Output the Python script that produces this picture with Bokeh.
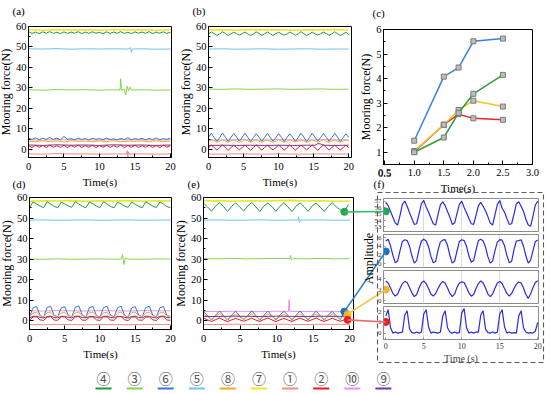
import numpy as np
from bokeh.plotting import figure
from bokeh.models import Range1d, SingleIntervalTicker, FixedTicker, PrintfTickFormatter, AllLabels
from bokeh.embed import file_html
from bokeh.resources import INLINE
from bokeh.core.properties import value

SERIF = "Liberation Serif"
OX, OY = 0, 0

# ---------------- time grids ----------------
T2 = np.linspace(0, 20, 11)
T1 = np.linspace(0, 20, 21)
T05 = np.linspace(0, 20, 41)
T04 = np.linspace(0, 20, 51)
TE = np.linspace(0, 19.8, 37)
TF = np.linspace(0, 20, 65)

# series colours (legend numbers)
COL = {1: "#f08a8a", 2: "#e41a1c", 3: "#86d64a", 4: "#1f9a3e", 5: "#6ec3ef",
       6: "#3478d4", 7: "#f2e51b", 8: "#f7a81b", 9: "#6a36a8", 10: "#ea8fea"}
LEGEND_ORDER = [4, 3, 6, 5, 8, 7, 1, 2, 10, 9]
LEGEND_TEXT = ["④", "③", "⑥", "⑤", "⑧", "⑦", "①", "②", "⑩", "⑨"]

# ---------------- panel (a) ----------------
A7 = [58.4, 58.2, 58.5, 58.3, 58.4, 58.2, 58.5, 58.3, 58.4, 58.2, 58.4]
A4 = [57.5, 56.6, 57.3, 56.5, 57.4, 56.7, 57.5, 56.6, 57.2, 56.5, 57.4, 56.6, 57.3, 56.7, 57.5, 56.5,
      57.3, 56.6, 57.4, 56.7, 57.2, 56.5, 57.4, 56.6, 57.3, 56.7, 57.5, 56.6, 57.2, 56.5, 57.4, 56.7,
      57.3, 56.6, 57.5, 56.5, 57.3, 56.7, 57.4, 56.6, 57.2]
A5_T = [0, 2, 4, 6, 8, 10, 12, 14, 14.4, 14.5, 14.6, 16, 18, 20]
A5 = [49.1, 49.0, 49.2, 48.9, 49.1, 49.0, 49.1, 49.0, 49.6, 47.3, 49.0, 49.1, 48.9, 49.0]
A3_T = [0, 2, 4, 6, 8, 10, 12, 12.9, 13.0, 13.1, 13.5, 13.7, 13.9, 14.1, 14.3, 14.5, 16, 18, 20]
A3 = [29.1, 28.9, 29.2, 29.0, 29.1, 28.9, 29.1, 29.0, 34.5, 28.8, 29.5, 26.5, 30.8, 28.5, 30.5, 29.0,
      29.1, 28.9, 29.0]
A6 = [5.5, 4.8, 5.6, 4.7, 5.4, 4.9, 5.8, 4.8, 5.5, 4.6, 6.3, 4.9, 5.2, 4.7, 5.5, 4.8, 5.3, 4.6, 5.4,
      4.9, 5.2, 4.7, 5.5, 4.8, 5.1, 4.6, 5.3, 4.8, 5.6, 4.7, 5.2, 4.9, 5.4, 4.6, 5.3, 4.8, 5.5, 4.7,
      5.2, 4.9, 5.4]
A10 = [4.7, 4.5, 4.8, 4.6, 4.7, 4.5, 4.8, 4.6, 4.7, 4.5, 4.7]
A8 = [4.0, 3.7, 4.2, 3.8, 4.1, 3.6, 4.2, 3.9, 4.0, 3.7, 4.1, 3.8, 4.2, 3.7, 4.0, 3.9, 4.1, 3.7, 4.2,
      3.8, 4.0]
A9 = [2.1, 1.9, 2.2, 2.0, 2.1, 1.9, 2.2, 2.0, 2.1, 1.9, 2.1]
A2 = [1.8, 0.9, 2.0, 1.0, 1.9, 0.8, 2.1, 1.0, 1.8, 0.9, 2.0, 0.8, 1.9, 1.0, 2.1, 0.9, 1.8, 1.0, 2.0,
      0.8, 1.9, 1.0, 2.0, 0.9, 1.8, 1.0, 2.1, 0.8, 1.9, 1.0, 2.0, 0.9, 1.8, 1.0, 2.0, 0.9, 1.9, 0.8,
      2.1, 1.0, 1.9]
A1_T = [0, 2, 4, 6, 8, 10, 12, 13.8, 13.9, 14.0, 14.1, 14.2, 16, 18, 20]
A1 = [-2.2, -2.4, -2.1, -2.3, -2.2, -2.4, -2.2, -2.3, -0.6, -3.8, -1.2, -2.3, -2.2, -2.4, -2.2]

# ---------------- panel (b) ----------------
B7 = [58.3, 58.4, 58.2, 58.5, 58.3, 58.4, 58.2, 58.4, 58.3, 58.5, 58.3]
B4 = [56.4, 57.3, 56.5, 55.7, 56.3, 57.4, 56.6, 55.6, 56.4, 57.2, 56.5, 55.8, 56.5, 57.3, 56.4, 55.6,
      56.3, 57.4, 56.6, 55.7, 56.4, 57.3, 56.5, 55.6, 56.5, 57.2, 56.4, 55.8, 56.3, 57.3, 56.6, 55.7,
      56.4, 57.5, 56.5, 55.6, 56.3, 57.2, 56.4, 55.8, 56.5, 57.3, 56.6, 55.7, 56.4, 57.4, 56.5, 55.6,
      56.3, 57.2, 56.0]
B5 = [49.0, 49.1, 48.9, 49.0, 49.1, 48.9, 49.0, 49.1, 48.9, 49.0, 49.0]
B3 = [29.4, 29.3, 29.5, 29.3, 29.4, 29.5, 29.3, 29.4, 29.5, 29.3, 29.4]
B6 = [5.8, 7.8, 5.9, 3.9, 5.7, 8.0, 5.9, 3.8, 5.8, 7.7, 6.0, 4.0, 5.8, 7.9, 5.9, 3.8, 5.7, 7.6, 6.0,
      3.9, 5.8, 7.8, 5.9, 4.0, 5.7, 7.7, 5.9, 3.8, 5.8, 7.6, 5.9, 3.9, 5.8, 7.9, 6.0, 3.8, 5.7, 7.8,
      5.9, 4.0, 5.8, 7.7, 5.9, 3.9, 5.8, 7.8, 6.0, 3.8, 5.7, 7.6, 5.8]
B10 = [4.6, 4.5, 4.7, 4.6, 4.5, 4.7, 4.6, 4.5, 4.7, 4.6, 4.6]
B8 = [4.0, 4.7, 4.1, 3.4, 4.0, 4.8, 4.0, 3.5, 4.1, 4.6, 4.0, 3.4, 4.0, 4.7, 4.1, 3.5, 4.0, 4.8, 4.0,
      3.4, 4.1, 4.6, 4.0, 3.5, 4.0, 4.7, 4.1, 3.4, 4.0, 4.8, 4.0, 3.5, 4.1, 4.6, 4.0, 3.4, 4.0, 4.7,
      4.1, 3.5, 4.0, 4.8, 4.0, 3.4, 4.1, 4.6, 4.0, 3.5, 4.0, 4.7, 4.0]
B9_T = [0, 2, 4, 6, 8, 10, 12, 14, 15.2, 15.6, 16, 16.4, 18, 20]
B9 = [1.9, 2.0, 1.9, 2.0, 1.9, 2.0, 1.9, 2.0, 2.0, 2.8, 2.6, 2.0, 1.9, 2.0]
B2 = [0.8, 2.1, 0.9, -0.4, 0.9, 2.2, 0.8, -0.5, 0.8, 2.0, 0.9, -0.3, 0.9, 2.1, 0.8, -0.5, 0.8, 2.2,
      0.9, -0.4, 0.9, 2.0, 0.8, -0.3, 0.8, 2.1, 0.9, -0.5, 0.9, 2.2, 0.8, -0.4, 0.8, 2.0, 0.9, -0.3,
      0.9, 2.1, 0.8, -0.5, 0.8, 2.2, 0.9, -0.4, 0.9, 2.0, 0.8, -0.3, 0.8, 2.1, 0.7]
B1 = [-2.3, -2.4, -2.2, -2.3, -2.4, -2.2, -2.3, -2.4, -2.2, -2.3, -2.3]

# ---------------- panel (c) ----------------
C_X = [1.0, 1.5, 1.75, 2.0, 2.5]
C_BLUE = [1.47, 4.08, 4.45, 5.52, 5.63]
C_GREEN = [1.0, 1.6, 2.6, 3.38, 4.15]
C_YELLOW = [1.05, 2.12, 2.72, 3.1, 2.86]
C_RED = [1.02, 2.12, 2.55, 2.38, 2.32]
C_XTICKS = [0.5, 1.0, 1.5, 2.0, 2.5, 3.0]
C_XMINOR = [0.75, 1.25, 1.75, 2.25, 2.75]

# ---------------- panel (d) ----------------
D7 = [58.2, 58.4, 58.3, 58.5, 58.2, 58.4, 58.3, 58.5, 58.2, 58.4, 58.3]
D4 = [55.0, 57.8, 56.9, 55.8, 55.1, 57.9, 56.8, 55.7, 55.0, 57.7, 56.9, 55.9, 55.2, 58.0, 56.8, 55.7,
      55.0, 57.8, 57.0, 55.8, 55.1, 57.9, 56.8, 55.6, 55.0, 57.7, 56.9, 55.8, 55.2, 57.8, 56.7, 55.7,
      55.0, 57.9, 56.9, 55.8, 55.1, 57.8, 56.8, 55.6, 55.0]
D5 = [49.0, 49.1, 48.9, 49.0, 49.1, 48.9, 49.0, 49.1, 48.9, 49.0, 49.0]
D3_T = [0, 2, 4, 6, 8, 10, 12, 13.0, 13.2, 13.4, 13.6, 14, 16, 18, 20]
D3 = [30.0, 29.9, 30.1, 29.9, 30.0, 30.1, 29.9, 30.0, 32.2, 27.4, 30.5, 30.0, 29.9, 30.1, 30.0]
D6 = [1.8, 6.3, 6.9, 2.6, 1.7, 6.4, 7.0, 2.5, 1.9, 6.2, 6.8, 2.7, 1.8, 6.5, 7.2, 2.6, 1.7, 6.3, 6.9,
      2.5, 1.8, 6.4, 7.0, 2.6, 1.9, 6.3, 7.1, 2.5, 1.7, 6.2, 6.8, 2.7, 1.8, 6.4, 7.0, 2.6, 1.8, 6.3,
      6.9, 2.5, 1.9]
D10 = [4.8, 4.7, 4.9, 4.8, 4.7, 4.9, 4.8, 4.7, 4.9, 4.8, 4.8]
D8 = [2.0, 3.8, 4.1, 2.4, 1.9, 3.9, 4.2, 2.3, 2.0, 3.7, 4.0, 2.4, 1.9, 3.8, 4.2, 2.3, 2.0, 3.9, 4.1,
      2.4, 1.9, 3.8, 4.0, 2.3, 2.0, 3.7, 4.1, 2.4, 1.9, 3.9, 4.2, 2.3, 2.0, 3.8, 4.0, 2.4, 1.9, 3.8,
      4.1, 2.3, 2.0]
D9 = [1.4, 2.1, 2.2, 1.6, 1.3, 2.0, 2.2, 1.5, 1.4, 2.1, 2.1, 1.6, 1.3, 2.2, 2.2, 1.5, 1.4, 2.0, 2.1,
      1.6, 1.3, 2.1, 2.2, 1.5, 1.4, 2.1, 2.1, 1.6, 1.3, 2.0, 2.2, 1.5, 1.4, 2.2, 2.1, 1.6, 1.3, 2.1,
      2.2, 1.5, 1.4]
D2 = [0.2, 1.8, 1.9, 0.4, 0.1, 1.7, 2.0, 0.3, 0.2, 1.9, 1.8, 0.4, 0.1, 1.8, 2.0, 0.3, 0.2, 1.7, 1.9,
      0.4, 0.1, 1.8, 1.9, 0.3, 0.2, 1.9, 2.0, 0.4, 0.1, 1.8, 1.8, 0.3, 0.2, 1.7, 1.9, 0.4, 0.1, 1.8,
      2.0, 0.3, 0.2]
D1 = [-1.9, -2.0, -1.8, -1.9, -2.0, -1.8, -1.9, -2.0, -1.8, -1.9, -1.9]

# ---------------- panel (e) ----------------
E7 = [58.3, 58.5, 58.2, 58.4, 58.3, 58.5, 58.6, 58.3, 58.4, 58.2, 58.3]
E4 = [57.3, 55.4, 53.3, 55.8, 57.5, 55.5, 53.2, 55.7, 57.4, 55.3, 53.4, 55.9, 57.6, 55.4, 53.2, 55.8,
      57.3, 55.6, 53.3, 55.7, 57.5, 55.4, 53.1, 55.8, 57.4, 55.5, 53.3, 55.9, 57.3, 55.3, 53.2, 55.7,
      57.5, 55.4, 54.0, 53.0, 56.5]
E5_T = [0, 2, 4, 6, 8, 10, 12, 12.9, 13.0, 13.1, 13.3, 14, 16, 18, 20]
E5 = [49.0, 49.1, 48.9, 49.0, 49.1, 48.9, 49.0, 49.0, 50.6, 47.8, 49.1, 49.0, 49.1, 48.9, 49.0]
E3_T = [0, 2, 4, 6, 8, 10, 11.8, 11.9, 12.0, 12.2, 14, 16, 18, 20]
E3 = [30.2, 30.1, 30.3, 30.1, 30.2, 30.3, 30.2, 31.8, 29.6, 30.2, 30.1, 30.3, 30.1, 30.2]
E6 = [4.5, 2.4, 0.3, 2.7, 4.7, 2.5, 0.2, 2.8, 4.6, 2.3, 0.4, 2.6, 4.8, 2.5, 0.2, 2.7, 4.6, 2.4, 0.3,
      2.9, 4.5, 2.6, 0.2, 2.7, 4.7, 2.4, 0.3, 2.6, 4.6, 2.5, 0.2, 2.8, 4.5, 2.4, 0.5, 4.4, 3.0]
E10_T = [0, 2, 4, 6, 8, 10, 11.6, 11.7, 11.8, 12.0, 14, 16, 18, 20]
E10 = [4.5, 4.4, 4.6, 4.5, 4.4, 4.6, 4.5, 10.2, 4.3, 4.5, 4.4, 4.6, 4.5, 4.5]
E8 = [3.2, 2.0, 0.8, 2.2, 3.3, 2.1, 0.7, 2.1, 3.1, 1.9, 0.8, 2.3, 3.3, 2.0, 0.7, 2.2, 3.2, 2.1, 0.8,
      2.1, 3.1, 2.0, 0.7, 2.2, 3.3, 1.9, 0.8, 2.3, 3.2, 2.0, 0.7, 2.1, 3.1, 2.1, 0.9, 2.4, 3.2]
E9 = [2.1, 2.0, 2.2, 2.1, 2.0, 2.2, 2.1, 2.0, 2.2, 2.1, 2.1]
E2 = [1.2, 0.4, -0.4, 0.5, 1.3, 0.3, -0.5, 0.4, 1.1, 0.4, -0.3, 0.5, 1.2, 0.3, -0.4, 0.6, 1.3, 0.4,
      -0.5, 0.4, 1.1, 0.3, -0.4, 0.5, 1.2, 0.4, -0.3, 0.5, 1.3, 0.3, -0.4, 0.4, 1.2, 0.4, -0.3, 0.4, 0.6]
E1 = [-1.8, -1.9, -1.7, -1.8, -1.9, -1.7, -1.8, -1.9, -1.7, -1.8, -1.8]
# highlighted points in (e): green, blue, orange, red
E_DOT_T = [19.25, 19.25, 19.7, 19.7]
E_DOT_Y = [53.0, 4.4, 3.2, 0.4]

# ---------------- panel (f) ----------------
F1 = [56.8, 56.3, 55.4, 54.5, 53.6, 53.3, 54.8, 56.5, 57.0, 56.2, 55.2, 54.3, 53.4, 53.5, 55.0, 56.6,
      57.1, 56.1, 55.3, 54.4, 53.5, 53.3, 54.9, 56.4, 56.9, 56.3, 55.4, 54.5, 53.4, 53.6, 55.1, 56.5,
      57.0, 56.0, 55.2, 54.3, 53.5, 53.4, 54.8, 56.3, 56.8, 56.2, 55.5, 54.6, 53.6, 53.3, 54.9, 56.5,
      57.1, 55.9, 55.3, 54.3, 53.4, 53.5, 55.0, 56.6, 56.9, 56.2, 55.4, 54.2, 53.3, 53.1, 54.7, 56.4,
      57.0]
F2 = [5.2, 5.6, 4.1, 1.9, 0.2, 0.6, 3.0, 5.1, 5.5, 5.3, 4.0, 1.8, 0.1, 0.7, 3.2, 5.2, 5.6, 5.2, 3.9,
      1.7, 0.2, 0.5, 3.1, 5.0, 5.4, 5.5, 4.2, 1.9, 0.1, 0.6, 2.9, 5.1, 5.5, 5.3, 4.0, 1.8, 0.3, 0.7,
      3.1, 5.3, 5.6, 5.2, 3.8, 1.6, 0.1, 0.6, 3.0, 5.0, 5.5, 5.4, 4.1, 1.9, 0.2, 0.5, 3.2, 5.2, 5.3,
      5.5, 4.0, 1.8, 0.1, 0.8, 3.0, 5.1, 5.4]
F3 = [3.6, 3.2, 2.3, 1.3, 0.8, 1.2, 2.2, 3.1, 3.5, 3.3, 2.4, 1.4, 0.7, 1.1, 2.3, 3.2, 3.6, 3.1, 2.2,
      1.2, 0.8, 1.3, 2.2, 3.0, 3.5, 3.2, 2.3, 1.3, 0.7, 1.2, 2.4, 3.2, 3.4, 3.3, 2.4, 1.4, 0.8, 1.1,
      2.2, 3.1, 3.6, 3.2, 2.3, 1.2, 0.7, 1.2, 2.3, 3.2, 3.5, 3.1, 2.2, 1.3, 0.8, 1.3, 2.2, 3.0, 3.4,
      3.2, 2.3, 1.1, 0.4, 1.2, 2.4, 3.3, 3.6]
F4 = [1.6, 2.2, 0.5, 0.0, 0.1, 0.0, 0.05, 0.1, 1.7, 2.1, 0.4, 0.05, 0.0, 0.1, 0.0, 0.1, 1.8, 2.2,
      0.6, 0.0, 0.1, 0.05, 0.0, 0.1, 1.6, 2.1, 0.5, 0.1, 0.0, 0.1, 0.0, 0.05, 1.9, 2.3, 0.5, 0.0,
      0.1, 0.0, 0.1, 0.1, 1.7, 2.1, 0.4, 0.05, 0.0, 0.1, 0.0, 0.1, 1.8, 2.2, 0.6, 0.0, 0.1, 0.0,
      0.05, 0.0, 1.6, 2.1, 0.5, 0.1, 0.0, 0.05, 0.0, 0.2, 1.0]
F_DOT_Y = [55.4, 2.8, 2.0, 1.05]
F_YR = [(52.3, 57.4), (-0.9, 6.7), (-0.55, 5.5), (-0.6, 2.5)]
F_TICK = [1, 2, 2, 1]

DOT_COLORS = ["#1ea650", "#1f6fc2", "#f4b42a", "#ee1c1c"]
LINK_COLORS = ["#3dba74", "#2a80c4", "#f5c23a", "#f06a6a"]


def place(p, left, top):
    p.styles = {"position": "absolute", "left": f"{left - OX}px", "top": f"{top - OY}px"}


def style_axes(p, tick_size="10.5px"):
    for ax in p.axis:
        ax.major_label_text_font = SERIF
        ax.major_label_text_font_size = tick_size
        ax.major_label_text_color = "black"
        ax.major_label_policy = AllLabels()
        ax.axis_label_text_font = SERIF
        ax.axis_label_text_font_style = "normal"
        ax.axis_label_text_color = "black"
        ax.major_tick_in = 4
        ax.major_tick_out = 0
        ax.minor_tick_in = 2
        ax.minor_tick_out = 0
        ax.axis_line_color = "black"
        ax.major_tick_line_color = "black"
        ax.minor_tick_line_color = "black"


def main_panel(g, xlabel, ylabel, xtick, ytick, br=6):
    bl, bt, bb = 40, 6, 40
    p = figure(width=bl + g["fw"] + br, height=bt + g["fh"] + bb,
               x_range=Range1d(*g["xr"]), y_range=Range1d(*g["yr"]),
               output_backend="svg", toolbar_location=None, title=None,
               min_border_left=bl, min_border_right=br, min_border_top=bt, min_border_bottom=bb,
               border_fill_color=None, background_fill_color="white", outline_line_color="black")
    place(p, g["fl"] - bl, g["ft"] - bt)
    style_axes(p)
    p.xaxis.ticker = SingleIntervalTicker(interval=xtick, num_minor_ticks=2)
    p.yaxis.ticker = SingleIntervalTicker(interval=ytick, num_minor_ticks=2)
    p.xaxis.axis_label = xlabel
    p.yaxis.axis_label = ylabel
    p.xaxis.axis_label_text_font_size = "11px"
    p.yaxis.axis_label_text_font_size = "12px"
    p.xaxis.major_label_standoff = 5
    p.xaxis.axis_label_standoff = 3
    p.yaxis.major_label_standoff = 2
    p.yaxis.axis_label_standoff = 0
    p.xgrid.visible = False
    p.ygrid.visible = False
    return p


def ln(p, t, y, k, w=1.0):
    p.line(list(t), y, line_color=COL[k], line_width=w)


G_A = dict(fl=28, ft=26, fw=143, fh=131, xr=(0, 20.15), yr=(-4, 60))
G_B = dict(fl=208, ft=26, fw=143, fh=131, xr=(0, 20.4), yr=(-4, 60))
G_C = dict(fl=383, ft=29, fw=149, fh=135, xr=(0.48, 3.0), yr=(0.5, 6.0))
G_D = dict(fl=29, ft=197, fw=142, fh=132, xr=(0, 20.15), yr=(-4.3, 60))
G_E = dict(fl=203, ft=197, fw=150, fh=132, xr=(0, 20.5), yr=(-4.3, 60))
G_F = [dict(fl=383, ft=top, fw=155, fh=33, xr=(-0.3, 20.1), yr=F_YR[i])
       for i, top in enumerate([198, 234, 270, 306])]

# (a)
pa = main_panel(G_A, "Time(s)", "Mooring force(N)", 5, 10)
ln(pa, T2, A7, 7, 1.6); ln(pa, T05, A4, 4); ln(pa, A5_T, A5, 5); ln(pa, A3_T, A3, 3)
ln(pa, T2, A10, 10); ln(pa, T05, A6, 6); ln(pa, T1, A8, 8); ln(pa, T2, A9, 9)
ln(pa, T05, A2, 2); ln(pa, A1_T, A1, 1)

# (b)
pb = main_panel(G_B, "Time(s)", "Mooring force(N)", 5, 10)
ln(pb, T2, B7, 7, 1.6); ln(pb, T04, B4, 4); ln(pb, T2, B5, 5); ln(pb, T2, B3, 3)
ln(pb, T2, B10, 10); ln(pb, T04, B6, 6); ln(pb, T04, B8, 8); ln(pb, B9_T, B9, 9)
ln(pb, T04, B2, 2); ln(pb, T2, B1, 1)

# (c)
pc = main_panel(G_C, "Time(s)", "Mooring force(N)", 0.5, 1, br=12)
pc.xaxis.ticker = FixedTicker(ticks=C_XTICKS, minor_ticks=C_XMINOR)
pc.xaxis.formatter = PrintfTickFormatter(format="%.1f")
pc.xaxis.major_label_standoff = 4
for ys, c in [(C_RED, "#e8282b"), (C_YELLOW, "#f7c325"), (C_GREEN, "#2e9e3a"), (C_BLUE, "#3b7fe0")]:
    pc.line(C_X, ys, line_color=c, line_width=1.5)
    pc.scatter(C_X, ys, marker="square", size=5, fill_color="#bdbdbd", line_color="#7a7a7a")

# (d)
pd_ = main_panel(G_D, "Time(s)", "Mooring force(N)", 5, 10)
ln(pd_, T2, D7, 7, 1.6); ln(pd_, T05, D4, 4); ln(pd_, T2, D5, 5); ln(pd_, D3_T, D3, 3)
ln(pd_, T2, D10, 10); ln(pd_, T05, D6, 6); ln(pd_, T05, D8, 8); ln(pd_, T05, D9, 9)
ln(pd_, T05, D2, 2); ln(pd_, T2, D1, 1)

# (e)
pe = main_panel(G_E, "Time(s)", "Mooring force(N)", 5, 10)
ln(pe, T2, E7, 7, 1.6); ln(pe, TE, E4, 4); ln(pe, E5_T, E5, 5); ln(pe, E3_T, E3, 3)
ln(pe, E10_T, E10, 10); ln(pe, TE, E6, 6); ln(pe, TE, E8, 8); ln(pe, T2, E9, 9)
ln(pe, TE, E2, 2); ln(pe, T2, E1, 1)
pe.scatter(E_DOT_T, E_DOT_Y, size=7, color=DOT_COLORS)

# (f) four stacked panels
F_SERIES = [F1, F2, F3, F4]
f_figs = []
for i, g in enumerate(G_F):
    last = i == 3
    bl, br, bt, bb = 22, 4, 2, (30 if last else 2)
    p = figure(width=bl + g["fw"] + br, height=bt + g["fh"] + bb,
               x_range=Range1d(*g["xr"]), y_range=Range1d(*g["yr"]),
               output_backend="svg", toolbar_location=None, title=None,
               min_border_left=bl, min_border_right=br, min_border_top=bt, min_border_bottom=bb,
               border_fill_color=None, background_fill_color="white", outline_line_color="#8c8c8c")
    place(p, g["fl"] - bl, g["ft"] - bt)
    for ax in p.axis:
        ax.major_label_text_font = SERIF
        ax.major_label_text_color = "#333333"
        ax.axis_line_color = "#8c8c8c"
        ax.major_tick_line_color = "#8c8c8c"
        ax.major_tick_in = 2
        ax.major_tick_out = 0
        ax.minor_tick_line_color = None
    p.yaxis.ticker = SingleIntervalTicker(interval=F_TICK[i], num_minor_ticks=0)
    p.yaxis.major_label_text_font_size = "7px"
    p.yaxis.major_label_standoff = 2
    p.xaxis.ticker = SingleIntervalTicker(interval=5, num_minor_ticks=0)
    p.xgrid.ticker = FixedTicker(ticks=[5, 10, 15])
    p.xgrid.grid_line_color = "#dcdcdc"
    p.ygrid.visible = False
    if last:
        p.xaxis.major_label_text_font_size = "8px"
        p.xaxis.major_label_standoff = 3
        p.xaxis.axis_label = "Time (s)"
        p.xaxis.axis_label_text_font = SERIF
        p.xaxis.axis_label_text_font_style = "normal"
        p.xaxis.axis_label_text_font_size = "10px"
        p.xaxis.axis_label_standoff = 1
    else:
        p.xaxis.visible = False
    p.line(list(TF), F_SERIES[i], line_color="#2a2ae6", line_width=1.2)
    p.scatter([0], [F_DOT_Y[i]], size=7, color=DOT_COLORS[i])
    f_figs.append(p)


def to_page(g, x, y):
    px = g["fl"] + (x - g["xr"][0]) / (g["xr"][1] - g["xr"][0]) * g["fw"]
    py = g["ft"] + (g["yr"][1] - y) / (g["yr"][1] - g["yr"][0]) * g["fh"]
    return px, py


# ---------------- overlay: tags, connectors, dashed box, legend ----------------
W, H = 550, 394
ov = figure(width=W, height=H, x_range=Range1d(0, W), y_range=Range1d(0, H),
            output_backend="svg", toolbar_location=None, title=None,
            x_axis_type=None, y_axis_type=None, min_border=0,
            min_border_left=0, min_border_right=0, min_border_top=0, min_border_bottom=0,
            border_fill_color=None, background_fill_color=None, outline_line_color=None)
place(ov, 0, 0)

x0s, y0s, x1s, y1s = [], [], [], []
for i in range(4):
    ax_, ay_ = to_page(G_E, E_DOT_T[i], E_DOT_Y[i])
    bx_, by_ = to_page(G_F[i], 0, F_DOT_Y[i])
    x0s.append(ax_); y0s.append(H - ay_); x1s.append(bx_); y1s.append(H - by_)
ov.segment(x0s, y0s, x1s, y1s, line_color=LINK_COLORS, line_width=1.6)

# dashed frame around (f)
bx0, by0, bx1, by1 = 377, 192, 543, 362
ov.multi_line([[bx0, bx1, bx1, bx0, bx0]], [[H - by0, H - by0, H - by1, H - by1, H - by0]],
              line_color="#5a5a5a", line_width=1.1, line_dash="5 3")

tags = ["(a)", "(b)", "(c)", "(d)", "(e)", "(f)"]
tag_x = [12, 192, 372, 12, 187, 373]
tag_y = [10, 10, 12, 183, 183, 183]
ov.text(tag_x, [H - v for v in tag_y], text=tags, text_font=value(SERIF), text_font_size="11px",
        text_align="left", text_baseline="middle", text_color="black")

# first x tick label of (c), placed under the frame's left corner
c0x, c0y = to_page(G_C, C_XTICKS[0], G_C["yr"][0])
ov.text([c0x], [H - (c0y + 9)], text=["%.1f" % C_XTICKS[0]], text_font=value(SERIF),
        text_font_size="10.5px", text_align="center", text_baseline="middle", text_color="black")

ov.text([368], [H - 258], text=["Amplitude"], angle=np.pi / 2, text_font=value(SERIF),
        text_font_size="12px", text_align="center", text_baseline="middle", text_color="black")

# legend row
lx = [103 + 31.1 * i for i in range(len(LEGEND_ORDER))]
ov.text(lx, [H - 377] * len(lx), text=LEGEND_TEXT, text_font=value("Noto Sans CJK SC"),
        text_font_size="14px", text_align="center", text_baseline="middle", text_color="#555555")
ov.segment([x - 8 for x in lx], [H - 388] * len(lx), [x + 8 for x in lx], [H - 388] * len(lx),
           line_color=[COL[k] for k in LEGEND_ORDER], line_width=2)

roots = [pa, pb, pc, pd_, pe] + f_figs + [ov]
open("out.html", "w").write(file_html(roots, INLINE))
